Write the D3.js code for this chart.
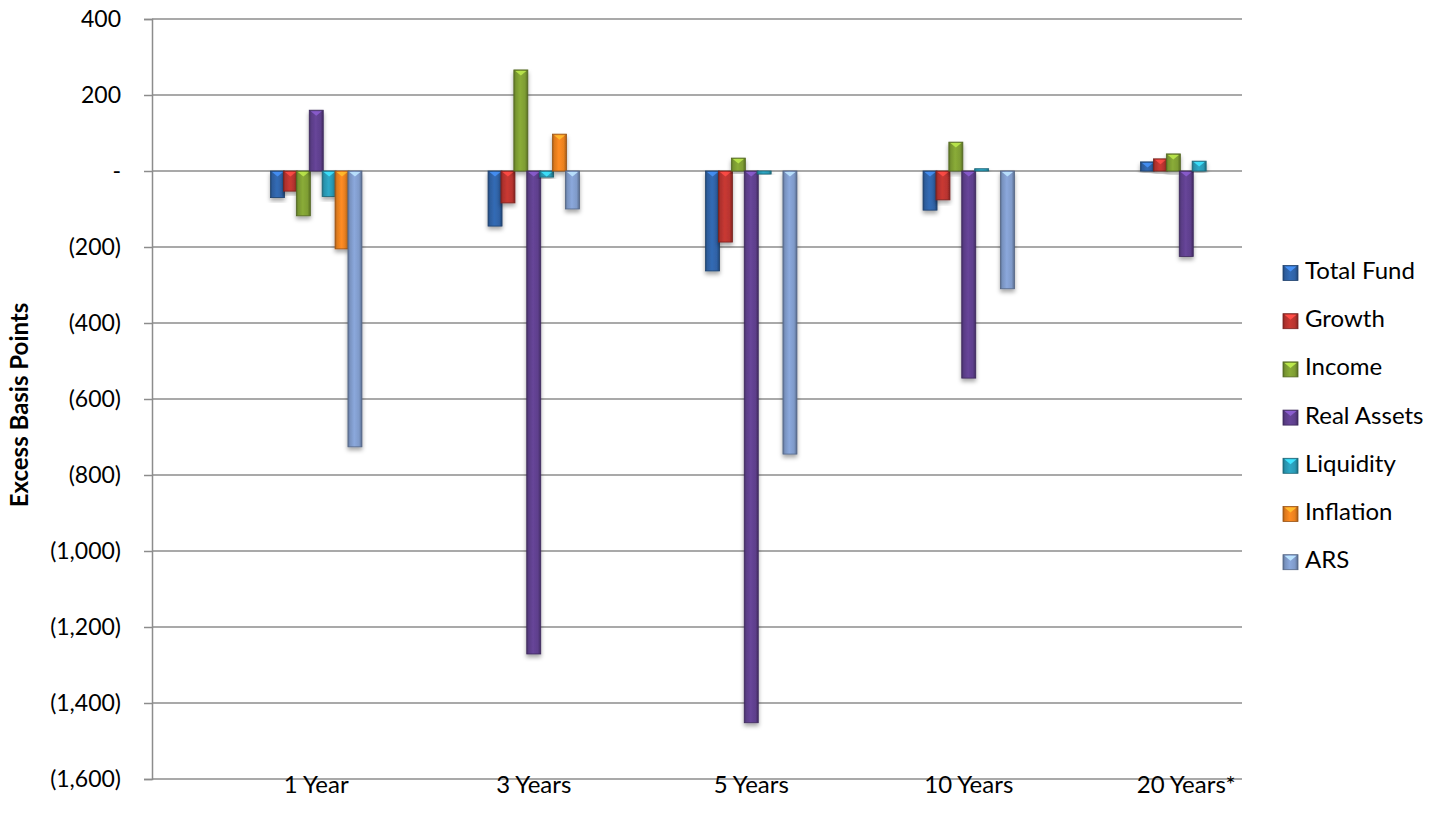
<!DOCTYPE html>
<html>
<head>
<meta charset="utf-8">
<script src="https://cdn.jsdelivr.net/npm/d3@7/dist/d3.min.js"></script>
<style>
  html, body { margin: 0; padding: 0; background: #ffffff; }
  svg { display: block; }
  text { font-family: Lato, "Open Sans", sans-serif; fill: #000; }
</style>
</head>
<body>
<svg id="chart" width="1435" height="828"></svg>
<script>
// Periods along the horizontal axis
const categories = ["1 Year", "3 Years", "5 Years", "10 Years", "20 Years*"];

// Excess return in basis points, one array per component
const totalFund  = [-70, -145, -263, -103, 24];
const growth     = [-53, -84, -187, -76, 32];
const income     = [-118, 266, 34, 76, 45];
const realAssets = [160, -1271, -1452, -545, -225];
const liquidity  = [-67, -16, -8, 6, 26];
const inflation  = [-205, 97, 0, 0, 0];
const ars        = [-726, -100, -745, -310, 0];

const seriesNames = ["Total Fund", "Growth", "Income", "Real Assets", "Liquidity", "Inflation", "ARS"];
const seriesColors = ["#2f62a6", "#b8342f", "#7e9d33", "#5e3f8c", "#2a9ab5", "#e9801f", "#7f9ac9"];

// Y tick values
const yTicks = [400, 200, 0, -200, -400, -600, -800, -1000, -1200, -1400, -1600];

const seriesValues = [totalFund, growth, income, realAssets, liquidity, inflation, ars];
const series = seriesNames.map((name, i) => ({ name, color: seriesColors[i], values: seriesValues[i] }));

const svg = d3.select("#chart");

const plot = { left: 152, right: 1242, top: 19, bottom: 779 };

const y = d3.scaleLinear().domain([-1600, 400]).range([plot.bottom, plot.top]);
const x0 = d3.scaleBand().domain(categories).range([207.5, 1295]).paddingInner(0).paddingOuter(0);
const step = 12.9;
const barW = 14;
const groupW = step * (series.length - 1) + barW;
const x1 = d3.scaleBand().domain(seriesNames).range([0, step * series.length]);

const fmt = v => v === 0 ? "-" : (v < 0 ? "(" + d3.format(",")(-v) + ")" : d3.format(",")(v));

// defs: bevel gradients and shadow
const defs = svg.append("defs");
const shadow = defs.append("filter").attr("id", "shadow")
  .attr("x", "-50%").attr("y", "-20%").attr("width", "200%").attr("height", "140%");
shadow.append("feDropShadow").attr("dx", 0).attr("dy", 3).attr("stdDeviation", 2.2)
  .attr("flood-color", "#000").attr("flood-opacity", 0.35);

series.forEach((s, i) => {
  const c = d3.color(s.color);
  const g = defs.append("linearGradient").attr("id", "grad" + i)
    .attr("x1", "0%").attr("x2", "100%").attr("y1", "0%").attr("y2", "0%");
  g.append("stop").attr("offset", "0%").attr("stop-color", c.darker(0.9));
  g.append("stop").attr("offset", "14%").attr("stop-color", c.darker(0.15));
  g.append("stop").attr("offset", "45%").attr("stop-color", c.brighter(0.25));
  g.append("stop").attr("offset", "80%").attr("stop-color", c);
  g.append("stop").attr("offset", "100%").attr("stop-color", c.darker(1.0));
});

// Gridlines
svg.append("g").selectAll("line").data(yTicks).join("line")
  .attr("x1", plot.left).attr("x2", plot.right)
  .attr("y1", d => y(d)).attr("y2", d => y(d))
  .attr("stroke", "#8c8c8c").attr("stroke-width", 1.5);

// Y axis
const yAxis = d3.axisLeft(y).tickValues(yTicks).tickFormat(fmt).tickSize(8).tickPadding(23);
const ya = svg.append("g").attr("transform", `translate(${plot.left},0)`).call(yAxis);
ya.select(".domain").attr("stroke", "#8c8c8c").attr("stroke-width", 1.5);
ya.selectAll(".tick line").attr("stroke", "#8c8c8c").attr("stroke-width", 1.5);
ya.selectAll(".tick text").attr("font-size", 23).attr("font-family", "Lato, sans-serif").attr("fill", "#000");

// X axis labels
const xa = svg.append("g");
xa.selectAll("text").data(categories).join("text")
  .attr("x", d => x0(d) + x0.bandwidth() / 2)
  .attr("y", 787)
  .attr("text-anchor", "middle")
  .attr("dominant-baseline", "middle")
  .attr("font-size", 24)
  .text(d => d);

// Y axis title
svg.append("text")
  .attr("transform", `translate(22,${(plot.top + plot.bottom) / 2 + 6}) rotate(-90)`)
  .attr("text-anchor", "middle")
  .attr("dominant-baseline", "middle")
  .attr("font-size", 24)
  .attr("font-weight", "bold")
  .text("Excess Basis Points");

// Bars
const bars = svg.append("g");
series.forEach((s, i) => {
  const c = d3.color(s.color);
  const data = categories.map((cat, j) => ({ cat, v: s.values[j] })).filter(d => d.v !== 0);
  const g = bars.append("g");
  const bx = d => x0(d.cat) + (x0.bandwidth() - groupW) / 2 + x1(s.name);
  g.selectAll("rect.bar").data(data).join("rect")
    .attr("class", "bar")
    .attr("x", bx)
    .attr("y", d => y(Math.max(0, d.v)))
    .attr("width", barW)
    .attr("height", d => Math.abs(y(d.v) - y(0)))
    .attr("fill", `url(#grad${i})`)
    .attr("stroke", c.darker(1.2))
    .attr("stroke-width", 0.8)
    .attr("filter", "url(#shadow)");
  // bevel chevron on top edge
  g.selectAll("path.chev").data(data.filter(d => Math.abs(y(d.v) - y(0)) > 4)).join("path")
    .attr("class", "chev")
    .attr("d", d => {
      const xl = bx(d), top = y(Math.max(0, d.v));
      return `M${xl + 1.5},${top + 1}L${xl + barW - 1.5},${top + 1}L${xl + barW / 2},${top + 5.5}Z`;
    })
    .attr("fill", c.brighter(1.1))
    .attr("opacity", 0.9);
});

// Legend
const legend = svg.append("g");
series.forEach((s, i) => {
  const c = d3.color(s.color);
  const cy = 273 + i * 48.2;
  const lg = legend.append("g");
  lg.append("rect")
    .attr("x", 1283).attr("y", cy - 7.5).attr("width", 15).attr("height", 15)
    .attr("fill", `url(#grad${i})`)
    .attr("stroke", c.darker(1.2)).attr("stroke-width", 0.8);
  lg.append("path")
    .attr("d", `M${1284.5},${cy - 6.5}L${1296.5},${cy - 6.5}L${1290.5},${cy - 1.5}Z`)
    .attr("fill", c.brighter(1.1));
  lg.append("text")
    .attr("x", 1305).attr("y", cy)
    .attr("dominant-baseline", "middle")
    .attr("font-size", 24)
    .text(s.name);
});
</script>
</body>
</html>
